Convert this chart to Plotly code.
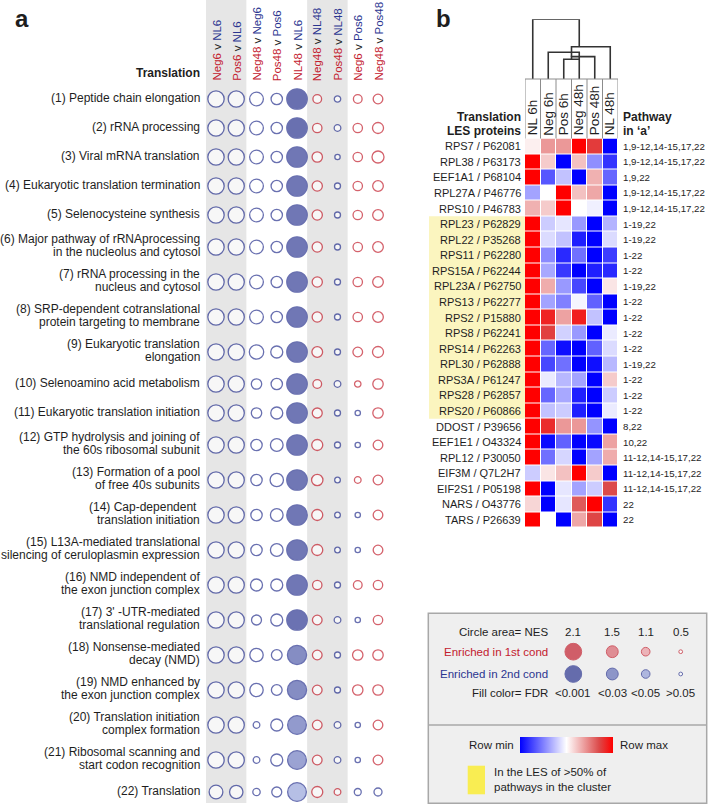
import numpy as np
import plotly.graph_objects as go

W, H = 709, 806
FONT = "Liberation Sans, Arial, Helvetica, sans-serif"
RED = "#c3202e"
BLUE = "#2b3590"
INK = "#1e1e1e"

# ---------------- panel a data ----------------
cond_1st = ["Neg6", "Pos6", "Neg48", "Pos48", "NL48", "Neg48", "Pos48", "Neg6", "Neg48"]
cond_2nd = ["NL6", "NL6", "Neg6", "Pos6", "NL6", "NL48", "NL48", "Pos6", "Pos48"]

pathways_a = [
    "(1) Peptide chain elongation",
    "(2) rRNA processing",
    "(3) Viral mRNA translation",
    "(4) Eukaryotic translation termination",
    "(5) Selenocysteine synthesis",
    "(6) Major pathway of rRNAprocessing\nin the nucleolus and cytosol",
    "(7) rRNA processing in the\nnucleus and cytosol",
    "(8) SRP-dependent cotranslational\nprotein targeting to membrane",
    "(9) Eukaryotic translation\nelongation",
    "(10) Selenoamino acid metabolism",
    "(11) Eukaryotic translation initiation",
    "(12) GTP hydrolysis and joining of\nthe 60s ribosomal subunit",
    "(13) Formation of a pool\nof free 40s subunits",
    "(14) Cap-dependent \ntranslation initiation",
    "(15) L13A-mediated translational\nsilencing of ceruloplasmin expression",
    "(16) NMD independent of\nthe exon junction complex",
    "(17) 3' -UTR-mediated\ntranslational regulation",
    "(18) Nonsense-mediated\ndecay (NMD)",
    "(19) NMD enhanced by\nthe exon junction complex",
    "(20) Translation initiation\ncomplex formation",
    "(21) Ribosomal scanning and\nstart codon recognition",
    "(22) Translation",
]

# signed NES: > 0 enriched in 1st condition (red), < 0 enriched in 2nd condition (blue)
nes_neg6_v_nl6 = [-2.06, -2.06, -2.06, -2.06, -2.06, -2.06, -2.06, -2.06, -2.06, -2.06, -2.06,
                  -2.06, -2.06, -2.06, -2.06, -2.06, -2.06, -2.06, -2.06, -2.06, -2.06, -1.73]
nes_pos6_v_nl6 = [-2.03, -2.03, -2.03, -2.03, -2.03, -2.03, -2.03, -2.03, -2.03, -2.03, -2.03,
                  -2.03, -2.03, -2.03, -2.03, -2.03, -2.03, -2.03, -2.03, -2.03, -2.03, -1.69]
nes_neg48_v_neg6 = [-1.73, -1.73, -1.73, -1.73, -1.73, -1.73, -1.73, -1.73, -1.81, -1.32, -1.32,
                    -1.44, -1.44, -1.44, -1.44, -1.52, -1.27, -1.69, -1.69, -0.86, -0.86, -0.95]
nes_pos48_v_pos6 = [-1.44, -1.44, -1.44, -1.44, -1.44, -1.44, -1.44, -1.44, -1.52, -1.44, -1.52,
                    -1.60, -1.69, -1.60, -1.60, -1.52, -1.52, -1.36, -1.36, -1.52, -1.52, -1.27]
nes_nl48_v_nl6 = [-2.56, -2.56, -2.56, -2.56, -2.56, -2.56, -2.56, -2.56, -2.56, -2.56, -2.56,
                  -2.56, -2.56, -2.56, -2.56, -2.56, -2.56, -2.40, -2.40, -2.35, -2.35, -2.35]
nes_neg48_v_nl48 = [1.11, 1.20, 1.32, 1.30, 1.30, 1.30, 1.30, 1.30, 1.36, 1.11, 1.27,
                    1.40, 1.44, 1.40, 1.40, 1.20, 1.23, 1.23, 1.23, 1.23, 1.23, 1.40]
nes_pos48_v_nl48 = [-0.83, -0.86, -0.70, -0.78, -0.78, -0.78, -0.78, -0.78, -0.78, -0.86, -0.78,
                    -0.78, -0.74, -0.74, -0.74, -0.78, -0.86, -0.78, -0.78, -0.86, -0.86, 0.86]
nes_neg6_v_pos6 = [1.11, 1.20, 1.20, 1.20, 1.20, 1.20, 1.20, 1.20, 1.23, 0.83, -0.70,
                   -0.70, 0.86, -0.70, -0.70, 1.11, -0.70, 1.32, 1.32, -0.70, -0.70, -0.90]
nes_neg48_v_pos48 = [1.23, 1.40, 1.52, 1.35, 1.35, 1.35, 1.35, 1.35, 1.40, 1.32, 1.32,
                     1.23, 1.23, 1.23, 1.23, 1.20, 1.20, 1.32, 1.32, 1.23, 1.23, -1.03]

fdr_nl48_v_nl6 = [0.000, 0.000, 0.004, 0.004, 0.004, 0.004, 0.004, 0.004, 0.004, 0.004, 0.004,
                  0.004, 0.004, 0.004, 0.004, 0.004, 0.001, 0.017, 0.017, 0.025, 0.030, 0.047]
FDR_NOT_SIGNIFICANT = 0.25

nes_columns = [nes_neg6_v_nl6, nes_pos6_v_nl6, nes_neg48_v_neg6, nes_pos48_v_pos6, nes_nl48_v_nl6,
               nes_neg48_v_nl48, nes_pos48_v_nl48, nes_neg6_v_pos6, nes_neg48_v_pos48]
fdr_columns = [None, None, None, None, fdr_nl48_v_nl6, None, None, None, None]

# ---------------- panel b data ----------------
samples_b = ["NL 6h", "Neg 6h", "Pos 6h", "Neg 48h", "Pos 48h", "NL 48h"]
proteins_b = ["RPS7 / P62081", "RPL38 / P63173", "EEF1A1 / P68104", "RPL27A / P46776", "RPS10 / P46783",
              "RPL23 / P62829", "RPL22 / P35268", "RPS11 / P62280", "RPS15A / P62244", "RPL23A / P62750",
              "RPS13 / P62277", "RPS2 / P15880", "RPS8 / P62241", "RPS14 / P62263", "RPL30 / P62888",
              "RPS3A / P61247", "RPS28 / P62857", "RPS20 / P60866", "DDOST / P39656", "EEF1E1 / O43324",
              "RPL12 / P30050", "EIF3M / Q7L2H7", "EIF2S1 / P05198", "NARS / O43776", "TARS / P26639"]
pathway_in_a = ["1,9-12,14-15,17,22", "1,9-12,14-15,17,22", "1,9,22", "1,9-12,14-15,17,22",
                "1,9-12,14-15,17,22", "1-19,22", "1-19,22", "1-22", "1-22", "1-19,22", "1-22", "1-22",
                "1-22", "1-22", "1-19,22", "1-22", "1-22", "1-22", "8,22", "10,22",
                "11-12,14-15,17,22", "11-12,14-15,17,22", "11-12,14-15,17,22", "22", "22"]
in_les_majority = [0, 0, 0, 0, 0, 1, 1, 1, 1, 1, 1, 1, 1, 1, 1, 1, 1, 1, 0, 0, 0, 0, 0, 0, 0]
# relative expression, 0 = row min, 1 = row max
expr_b = [
    [0.53, 0.70, 0.70, 1.00, 0.88, 0.00],
    [1.00, 0.60, 0.00, 0.62, 0.28, 0.10],
    [1.00, 0.17, 0.38, 0.00, 0.65, 0.20],
    [0.32, 0.50, 1.00, 0.62, 0.67, 0.00],
    [0.65, 0.60, 1.00, 0.50, 0.47, 0.00],
    [1.00, 0.40, 0.45, 0.30, 0.00, 0.35],
    [1.00, 0.43, 0.38, 0.06, 0.00, 0.43],
    [1.00, 0.27, 0.08, 0.22, 0.00, 0.12],
    [1.00, 0.33, 0.11, 0.00, 0.06, 0.08],
    [1.00, 0.66, 0.30, 0.14, 0.00, 0.55],
    [1.00, 0.32, 0.25, 0.48, 0.19, 0.00],
    [1.00, 0.93, 0.68, 0.94, 0.38, 0.00],
    [1.00, 0.87, 0.41, 0.30, 0.00, 0.46],
    [1.00, 0.20, 0.03, 0.00, 0.19, 0.43],
    [1.00, 0.14, 0.22, 0.00, 0.03, 0.36],
    [1.00, 0.46, 0.36, 0.32, 0.00, 0.60],
    [1.00, 0.20, 0.33, 0.06, 0.00, 0.40],
    [1.00, 0.38, 0.40, 0.06, 0.00, 0.46],
    [1.00, 0.91, 0.70, 0.70, 0.29, 0.00],
    [1.00, 0.02, 0.19, 0.00, 0.02, 0.68],
    [1.00, 0.22, 0.42, 0.00, 0.32, 0.66],
    [0.40, 0.55, 0.62, 1.00, 0.60, 0.00],
    [1.00, 0.00, 0.45, 0.32, 0.40, 0.85],
    [0.58, 0.00, 0.45, 0.82, 1.00, 0.10],
    [1.00, 0.50, 0.00, 0.67, 0.86, 0.00],
]

# dendrogram links over the sample columns (column positions, merge height, leg base heights)
dendro_left = [2.0, 2.5, 1.0, 2.5, 0.0]
dendro_right = [3.0, 4.0, 3.0, 5.0, 3.0]
dendro_height = [0.33, 0.374, 0.447, 0.54, 1.0]
dendro_left_base = [0.0, 0.33, 0.0, 0.374, 0.0]
dendro_right_base = [0.0, 0.0, 0.33, 0.0, 0.54]

# legend
legend_nes = [2.1, 1.5, 1.1, 0.5]
legend_fdr = [0.0005, 0.025, 0.045, 0.2]
legend_fdr_labels = ["<0.001", "<0.03", "<0.05", ">0.05"]

# ---------------- helpers ----------------
MARKER_LW = 1.3


def X(px):
    return px / W


def Y(py):
    return 1 - py / H


def size_px(nes):
    return 8.1 * abs(nes) + 1.0 - MARKER_LW


DARK = {1: (195, 32, 46), -1: (43, 53, 144)}
PALE = {1: (239, 168, 174), -1: (159, 171, 224)}


def fill_color(sign, fdr):
    if fdr is None or fdr > 0.05:
        return "white"
    t = min(max(fdr / 0.05, 0), 1)
    a, b = DARK[sign], PALE[sign]
    c = [round(a[k] + (b[k] - a[k]) * t) for k in range(3)]
    return "rgb(%d,%d,%d)" % tuple(c)


annotations = []
shapes = []


def txt(x, y, text, size=12, color=INK, xanchor="center", yanchor="middle",
        bold=False, angle=0, xref="paper", yref="paper", family=FONT):
    if bold:
        text = "<b>" + text + "</b>"
    annotations.append(dict(
        x=x, y=y, xref=xref, yref=yref, text=text, showarrow=False,
        xanchor=xanchor, yanchor=yanchor, textangle=angle,
        font=dict(family=family, size=size, color=color), borderpad=0))


fig = go.Figure()

# ---------------- panel a ----------------
COL_STEP = 20.25
A_X0 = 216.0 - COL_STEP / 2
A_X1 = A_X0 + COL_STEP * len(cond_1st)

ROW_H = {1: 29.0, 2: 35.0}
n_lines = [p.count("\n") + 1 for p in pathways_a]
row_y = []
cur = 99.0
for i, nl in enumerate(n_lines):
    if i > 0:
        cur += (ROW_H[n_lines[i - 1]] + ROW_H[nl]) / 2
    row_y.append(cur)

# gray bands behind column groups
for (c0, c1) in [(0, 1), (5, 6)]:
    shapes.append(dict(type="rect", xref="x", yref="paper", x0=c0 - 0.5, x1=c1 + 0.5,
                       y0=Y(803), y1=1.0, fillcolor="#e6e6e6", line=dict(width=0), layer="below"))

xs, ys, sz, fc, lc = [], [], [], [], []
for j, col in enumerate(nes_columns):
    for i, v in enumerate(col):
        sign = 1 if v > 0 else -1
        f = fdr_columns[j][i] if fdr_columns[j] is not None else FDR_NOT_SIGNIFICANT
        xs.append(j)
        ys.append(row_y[i])
        sz.append(size_px(v))
        fc.append(fill_color(sign, f))
        lc.append(RED if sign > 0 else BLUE)
fig.add_trace(go.Scatter(x=xs, y=ys, mode="markers", xaxis="x", yaxis="y", hoverinfo="skip",
                         marker=dict(size=sz, color=fc, line=dict(color=lc, width=MARKER_LW)),
                         showlegend=False))

# column headers
for j, (a, b) in enumerate(zip(cond_1st, cond_2nd)):
    t = '<span style="color:%s">%s</span> v <span style="color:%s">%s</span>' % (RED, a, BLUE, b)
    txt(j, 82, t, size=11.5, angle=-90, xanchor="center", yanchor="bottom", xref="x", yref="y")

# row labels
for i, p in enumerate(pathways_a):
    lines = p.split("\n")
    L = len(lines)
    for k, line in enumerate(lines):
        yy = row_y[i] - 1.5 + (k - (L - 1) / 2) * 13.0
        txt(X(201), yy, line, size=12, xanchor="right", yref="y")

txt(X(201), 73, "Translation", size=12, xanchor="right", bold=True, yref="y")
txt(X(21.5), Y(19), "a", size=24, bold=True)
txt(X(443.5), Y(19), "b", size=24, bold=True)

# ---------------- panel b ----------------
HM_X0, HM_X1 = 525.0, 618.0
HM_Y0 = 138.5
CELL = 15.57
HM_Y1 = HM_Y0 + CELL * len(proteins_b)

colorscale = [[0.0, "#0000ff"], [0.5, "#ffffff"], [0.85, "#dc4a4a"], [1.0, "#ff0000"]]
fig.add_trace(go.Heatmap(
    z=expr_b, x=list(range(len(samples_b))), y=list(range(len(proteins_b))),
    xaxis="x2", yaxis="y2", colorscale=colorscale, zmin=0, zmax=1, xgap=1, ygap=1,
    hoverinfo="skip",
    colorbar=dict(orientation="h", lenmode="pixels", len=93.3, thicknessmode="pixels", thickness=16,
                  x=X(566.6), xanchor="center", y=Y(744.7), yanchor="middle",
                  showticklabels=False, ticks="", outlinewidth=0, xpad=0, ypad=0)))

# yellow LES highlight
i = 0
while i < len(in_les_majority):
    if in_les_majority[i]:
        j = i
        while j + 1 < len(in_les_majority) and in_les_majority[j + 1]:
            j += 1
        shapes.append(dict(type="rect", xref="paper", yref="y2", x0=X(429), x1=X(HM_X0),
                           y0=i - 0.5, y1=j + 0.5, fillcolor="#fbf5bf", line=dict(width=0),
                           layer="below"))
        i = j + 1
    else:
        i += 1

for r, (p, pw) in enumerate(zip(proteins_b, pathway_in_a)):
    txt(X(522), r, p, size=11, xanchor="right", yref="y2")
    txt(X(621.5), r, pw, size=9.7, xanchor="left", yref="y2")

txt(X(522), Y(117), "Translation", size=12, xanchor="right", bold=True)
txt(X(522), Y(130.5), "LES proteins", size=12, xanchor="right", bold=True)
txt(X(622), Y(117), "Pathway", size=12, xanchor="left", bold=True)
txt(X(622), Y(130.5), "in \u2018a\u2019", size=12, xanchor="left", bold=True)

# header boxes
for k in range(len(samples_b) + 1):
    shapes.append(dict(type="line", xref="x4", yref="paper", x0=k - 0.5, x1=k - 0.5,
                       y0=Y(HM_Y0), y1=Y(79), line=dict(color="#8c8c8c", width=1)))
shapes.append(dict(type="line", xref="x4", yref="paper", x0=-0.5, x1=len(samples_b) - 0.5,
                   y0=Y(79), y1=Y(79), line=dict(color="#8c8c8c", width=1)))
for k, s in enumerate(samples_b):
    txt(k, Y(136.5), s, size=13.5, angle=-90, xanchor="center", yanchor="bottom", xref="x4")

# dendrogram
dx, dy = [], []
for l, r, h, lb, rb in zip(dendro_left, dendro_right, dendro_height, dendro_left_base, dendro_right_base):
    dx += [l, l, r, r, None]
    dy += [lb, h, h, rb, None]
fig.add_trace(go.Scatter(x=dx, y=dy, mode="lines", xaxis="x4", yaxis="y4", hoverinfo="skip",
                         line=dict(color="#333333", width=1.6), showlegend=False))

# ---------------- legend box ----------------
shapes.append(dict(type="rect", xref="paper", yref="paper", x0=X(428.3), x1=X(706.7),
                   y0=Y(803.3), y1=Y(613.3), fillcolor="#efefef",
                   line=dict(color="#a8a8a8", width=1.5), layer="below"))
shapes.append(dict(type="line", xref="paper", yref="paper", x0=X(428.3), x1=X(706.7),
                   y0=Y(725), y1=Y(725), line=dict(color="#a8a8a8", width=1.5)))

LEG_X = [573.3, 612.3, 645.7, 680.7]
LEG_Y_RED, LEG_Y_BLUE = 651.7, 674.0
lx, ly, lsz, lfc, llc = [], [], [], [], []
for sign, yy in [(1, LEG_Y_RED), (-1, LEG_Y_BLUE)]:
    for k, (n, f) in enumerate(zip(legend_nes, legend_fdr)):
        lx.append(LEG_X[k])
        ly.append(yy)
        lsz.append(size_px(n))
        lfc.append(fill_color(sign, f))
        llc.append(RED if sign > 0 else BLUE)
fig.add_trace(go.Scatter(x=lx, y=ly, mode="markers", xaxis="x3", yaxis="y3", hoverinfo="skip",
                         marker=dict(size=lsz, color=lfc, line=dict(color=llc, width=1.0)),
                         showlegend=False))

txt(X(548.5), Y(632.3), "Circle area= NES", size=11.5, xanchor="right")
txt(X(548.5), Y(651.7), "Enriched in 1st cond", size=11.5, xanchor="right", color=RED)
txt(X(548.5), Y(674.0), "Enriched in 2nd cond", size=11.5, xanchor="right", color=BLUE)
txt(X(548.5), Y(693.3), "Fill color= FDR", size=11.5, xanchor="right")
for k in range(4):
    txt(X(LEG_X[k]), Y(632.3), "%.1f" % legend_nes[k], size=11.5)
    txt(X(LEG_X[k]), Y(693.3), legend_fdr_labels[k], size=11.5)

txt(X(515), Y(744.7), "Row min", size=11.5, xanchor="right")
txt(X(618.5), Y(744.7), "Row max", size=11.5, xanchor="left")
shapes.append(dict(type="rect", xref="paper", yref="paper", x0=X(467.7), x1=X(485),
                   y0=Y(794.3), y1=Y(765.7), fillcolor="#f9ed52", line=dict(width=0)))
txt(X(493.3), Y(772.3), "In the LES of >50% of", size=11.5, xanchor="left")
txt(X(493.3), Y(786.7), "pathways in the cluster", size=11.5, xanchor="left")

# ---------------- layout ----------------
hidden = dict(visible=False, showgrid=False, zeroline=False, fixedrange=True)
fig.update_layout(
    width=W, height=H, margin=dict(l=0, r=0, t=0, b=0, pad=0, autoexpand=False),
    paper_bgcolor="white", plot_bgcolor="rgba(0,0,0,0)", showlegend=False,
    font=dict(family=FONT, color=INK),
    xaxis=dict(domain=[X(A_X0), X(A_X1)], range=[-0.5, len(cond_1st) - 0.5], **hidden),
    yaxis=dict(domain=[0, 1], range=[H, 0], **hidden),
    xaxis2=dict(domain=[X(HM_X0), X(HM_X1)], range=[-0.5, len(samples_b) - 0.5], anchor="y2", **hidden),
    yaxis2=dict(domain=[Y(HM_Y1), Y(HM_Y0)], range=[len(proteins_b) - 0.5, -0.5], anchor="x2", **hidden),
    xaxis3=dict(domain=[0, 1], range=[0, W], anchor="y3", **hidden),
    yaxis3=dict(domain=[0, 1], range=[H, 0], anchor="x3", **hidden),
    xaxis4=dict(domain=[X(HM_X0), X(HM_X1)], range=[-0.5, len(samples_b) - 0.5], anchor="y4", **hidden),
    yaxis4=dict(domain=[Y(79), Y(19.3)], range=[0, 1], anchor="x4", **hidden),
    annotations=annotations, shapes=shapes,
)

fig.write_html("out.html", config={"displayModeBar": False},
               post_script="document.body.style.margin='0px';document.body.style.overflow='hidden';")
